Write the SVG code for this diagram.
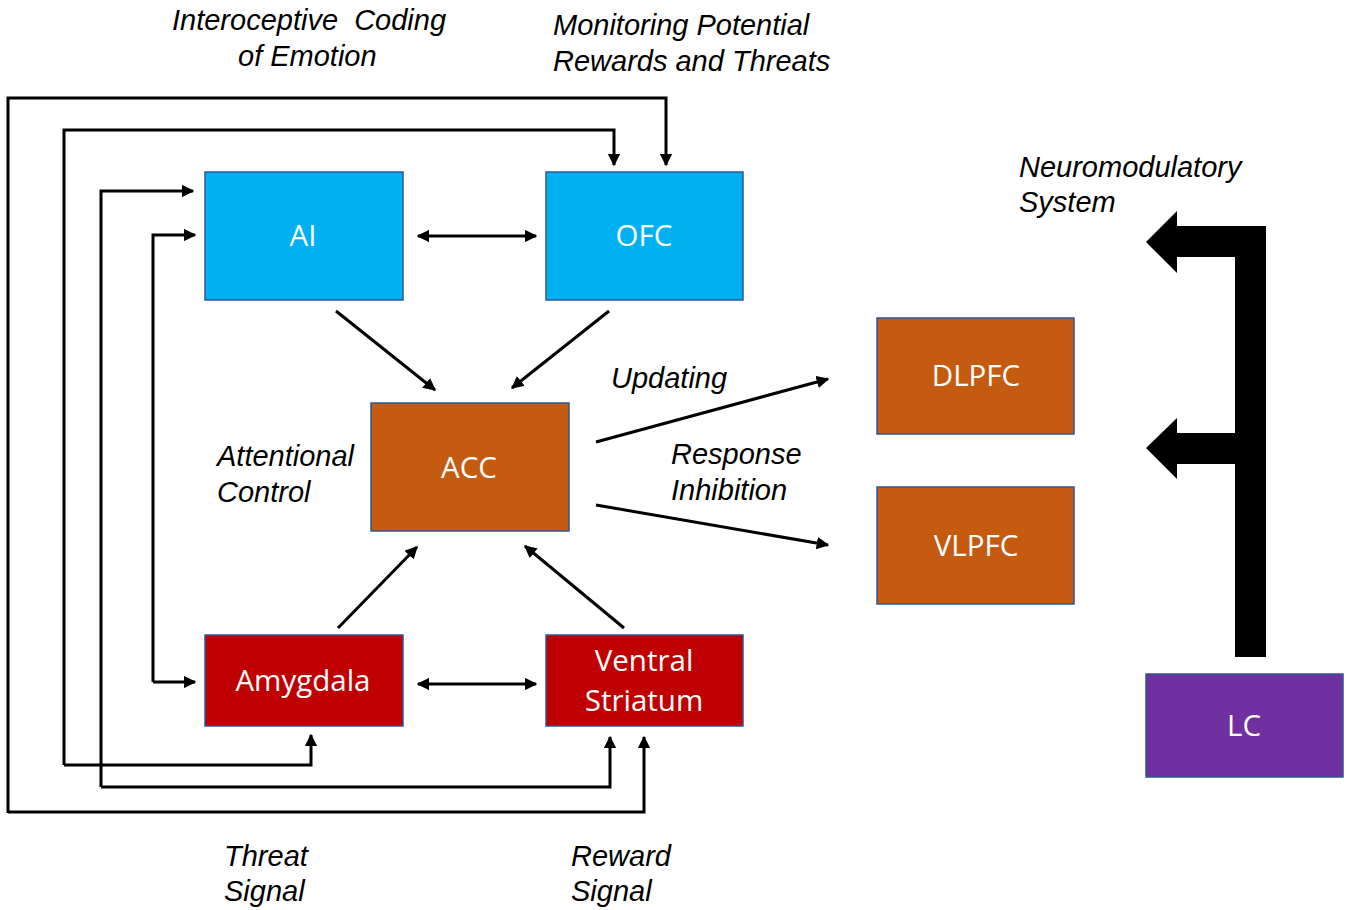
<svg xmlns="http://www.w3.org/2000/svg" width="1349" height="910" viewBox="0 0 1349 910">
<defs>
<marker id="ah" viewBox="0 0 10 10" refX="9" refY="5" markerWidth="4.2" markerHeight="4.2" orient="auto-start-reverse" markerUnits="strokeWidth">
<path d="M0,0 L10,5 L0,10 z" fill="#000"/>
</marker>
<style>
.box{stroke:#2F5597;stroke-width:1.5}
.blue{fill:#00B0F0}
.orange{fill:#C55A11}
.red{fill:#C00000}
.purple{fill:#7030A0}
.nt{font-family:"Open Sans","Liberation Sans",sans-serif;font-size:29.5px;font-weight:500;fill:#fff;text-anchor:middle}
.lb{font-family:"Liberation Sans",Arial,sans-serif;font-style:italic;font-size:29px;fill:#000}
.ln{fill:none;stroke:#000;stroke-width:3}
.ar{marker-end:url(#ah)}
.bi{marker-start:url(#ah);marker-end:url(#ah)}
</style>
</defs>
<rect width="1349" height="910" fill="#fff"/>
<g id="connectors">
<polyline class="ln ar" points="8,813 8,98 666,98 666,165"/>
<polyline class="ln ar" points="64,765 64,130 614,130 614,165"/>
<polyline class="ln ar" points="101,787 101,191 193,191"/>
<polyline class="ln ar" points="153,682 153,235 195,235"/>
<polyline class="ln ar" points="153,682 195,682"/>
<polyline class="ln ar" points="8,812 644,812 644,737"/>
<polyline class="ln ar" points="101,787 610,787 610,737"/>
<polyline class="ln ar" points="64,765 311,765 311,735"/>
<line class="ln bi" x1="418" y1="236" x2="536" y2="236"/>
<line class="ln bi" x1="418" y1="684" x2="536" y2="684"/>
<line class="ln ar" x1="336" y1="311" x2="435" y2="390"/>
<line class="ln ar" x1="609" y1="311" x2="512" y2="388"/>
<line class="ln ar" x1="338" y1="628" x2="417" y2="547"/>
<line class="ln ar" x1="624" y1="628" x2="525" y2="546"/>
<line class="ln ar" x1="596" y1="442" x2="828" y2="379"/>
<line class="ln ar" x1="596" y1="505" x2="828" y2="545"/>
<path d="M1235,657 L1235,464 L1177,464 L1177,479 L1146,448 L1177,418 L1177,433 L1235,433 L1235,257 L1177,257 L1177,273 L1146,242 L1177,211 L1177,226 L1266,226 L1266,657 Z" fill="#000"/>
</g>
<g id="AI"><rect class="box blue" x="205" y="172" width="198" height="128"/><text class="nt" x="303" y="246">AI</text></g>
<g id="OFC"><rect class="box blue" x="546" y="172" width="197" height="128"/><text class="nt" x="644" y="246">OFC</text></g>
<g id="ACC"><rect class="box orange" x="371" y="403" width="198" height="128"/><text class="nt" x="469" y="478">ACC</text></g>
<g id="Amygdala"><rect class="box red" x="205" y="635" width="198" height="91"/><text class="nt" x="303" y="691">Amygdala</text></g>
<g id="VentralStriatum"><rect class="box red" x="546" y="635" width="197" height="91"/><text class="nt" x="644" y="671">Ventral</text><text class="nt" x="644" y="711">Striatum</text></g>
<g id="DLPFC"><rect class="box orange" x="877" y="318" width="197" height="116"/><text class="nt" x="976" y="386">DLPFC</text></g>
<g id="VLPFC"><rect class="box orange" x="877" y="487" width="197" height="117"/><text class="nt" x="976" y="556">VLPFC</text></g>
<g id="LC"><rect class="box purple" x="1146" y="674" width="197" height="103"/><text class="nt" x="1244" y="736">LC</text></g>
<g id="labels">
<text class="lb" x="172" y="30" xml:space="preserve">Interoceptive  Coding</text>
<text class="lb" x="238" y="66">of Emotion</text>
<text class="lb" x="553" y="35">Monitoring Potential</text>
<text class="lb" x="553" y="71">Rewards and Threats</text>
<text class="lb" x="1019" y="177">Neuromodulatory</text>
<text class="lb" x="1019" y="212">System</text>
<text class="lb" x="611" y="388">Updating</text>
<text class="lb" x="671" y="464">Response</text>
<text class="lb" x="671" y="500">Inhibition</text>
<text class="lb" x="217" y="466">Attentional</text>
<text class="lb" x="217" y="502">Control</text>
<text class="lb" x="224" y="866">Threat</text>
<text class="lb" x="224" y="901">Signal</text>
<text class="lb" x="571" y="866">Reward</text>
<text class="lb" x="571" y="901">Signal</text>
</g>
</svg>
